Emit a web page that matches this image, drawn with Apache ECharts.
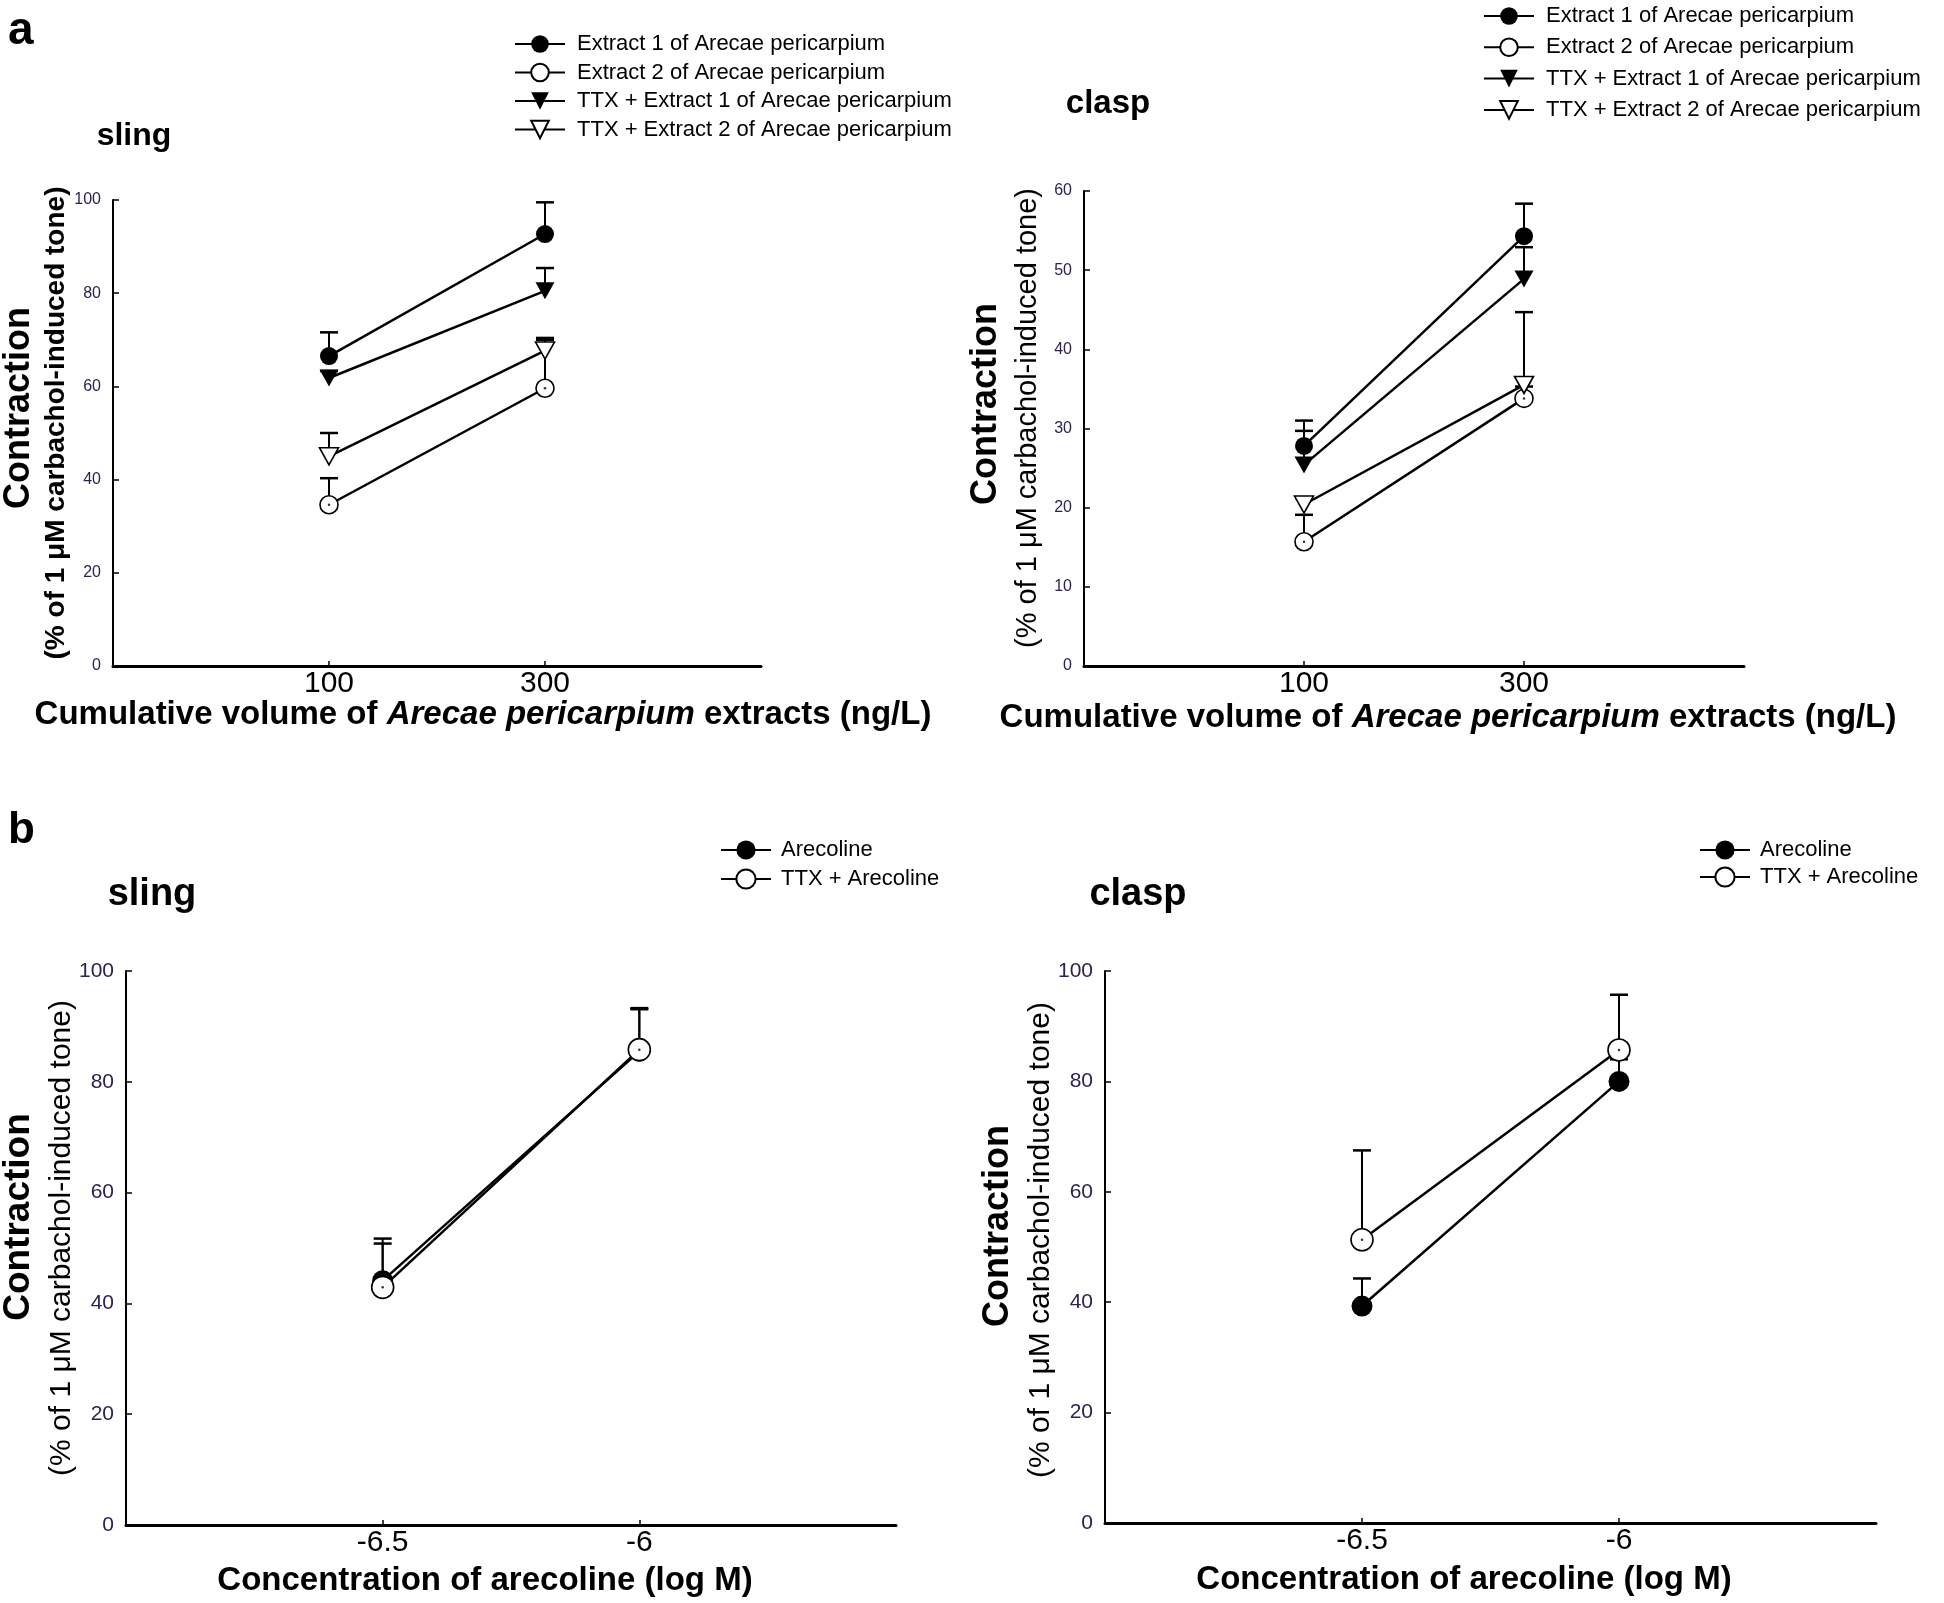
<!DOCTYPE html>
<html>
<head>
<meta charset="utf-8">
<script src="https://cdn.jsdelivr.net/npm/echarts@6/dist/echarts.min.js"></script>
<style>html,body{margin:0;padding:0;background:#fff}#c{width:1944px;height:1603px}</style>
</head>
<body>
<div id="c"></div>
<script>
// ---- data ----
const aCats = ['', '100', '300', ' '];
const bCats = ['', '-6.5', '-6', ' '];

const aSlingExt1 = [66.5, 92.7];  const aSlingExt1Sem = [5.1, 6.8];
const aSlingExt2 = [34.6, 59.6];  const aSlingExt2Sem = [5.7, 10.4];
const aSlingTtx1 = [61.8, 80.5];  const aSlingTtx1Sem = [1.5, 4.9];
const aSlingTtx2 = [45.0, 67.7];  const aSlingTtx2Sem = [5.0, 2.7];

const aClaspExt1 = [27.8, 54.3];  const aClaspExt1Sem = [3.2, 4.1];
const aClaspExt2 = [15.7, 33.8];  const aClaspExt2Sem = [3.4, 1.5];
const aClaspTtx1 = [25.4, 48.9];  const aClaspTtx1Sem = [4.3, 4.0];
const aClaspTtx2 = [20.4, 35.5];  const aClaspTtx2Sem = [0.8, 9.2];

const bSlingAre = [44.1, 85.5];   const bSlingAreSem = [7.6, 7.6];
const bSlingTtx = [42.9, 85.8];   const bSlingTtxSem = [7.9, 7.5];
const bClaspAre = [39.3, 80.0];   const bClaspAreSem = [5.0, 4.0];
const bClaspTtx = [51.3, 85.7];   const bClaspTtxSem = [16.2, 10.0];

const aNames = ['Extract 1 of Arecae pericarpium', 'Extract 2 of Arecae pericarpium',
  'TTX + Extract 1 of Arecae pericarpium', 'TTX + Extract 2 of Arecae pericarpium'];
const bNames = ['Arecoline', 'TTX + Arecoline'];

// ---- helpers ----
const toPts = vals => vals.map((v, i) => [i + 1, v]);
const toErr = (vals, sem) => vals.map((v, i) => [i + 1, v, v + sem[i]]);

const styles = {
  fc: { symbol: 'circle', itemStyle: { color: '#000' } },
  oc: { symbol: 'circle', itemStyle: { color: '#fff', borderColor: '#000', borderWidth: 1.6 } },
  ft: { symbol: 'triangle', symbolRotate: 180, itemStyle: { color: '#000' } },
  ot: { symbol: 'triangle', symbolRotate: 180, itemStyle: { color: '#fff', borderColor: '#000', borderWidth: 1.6 } }
};

function lineS(name, idx, vals, kind, size) {
  const st = styles[kind];
  return {
    type: 'line', name, xAxisIndex: idx, yAxisIndex: idx, data: toPts(vals),
    symbol: st.symbol, symbolRotate: st.symbolRotate || 0,
    symbolSize: kind[1] === 't' ? [size + 1, size - 1] : size,
    itemStyle: st.itemStyle, lineStyle: { color: '#000', width: 2.5 },
    z: 3, silent: true, animation: false
  };
}
function errS(idx, vals, sem) {
  return {
    type: 'custom', xAxisIndex: idx, yAxisIndex: idx, data: toErr(vals, sem),
    encode: { x: 0, y: [1, 2] }, z: 1, silent: true, animation: false,
    renderItem: (params, api) => {
      const p0 = api.coord([api.value(0), api.value(1)]);
      const p1 = api.coord([api.value(0), api.value(2)]);
      const hw = 9;
      return { type: 'group', children: [
        { type: 'line', shape: { x1: p0[0], y1: p0[1], x2: p1[0], y2: p1[1] }, style: { stroke: '#000', lineWidth: 2 } },
        { type: 'line', shape: { x1: p1[0] - hw, y1: p1[1], x2: p1[0] + hw, y2: p1[1] }, style: { stroke: '#000', lineWidth: 2.5 } }
      ] };
    }
  };
}
function dotS(idx, list) {
  let pts = [];
  list.forEach(v => pts = pts.concat(toPts(v)));
  return { type: 'scatter', name: 'dot', xAxisIndex: idx, yAxisIndex: idx, data: pts,
    symbolSize: 2.5, itemStyle: { color: '#000' }, z: 6, silent: true, animation: false };
}

const grids = [
  { left: 113, top: 200, width: 648, height: 466 },
  { left: 1084, top: 191, width: 660, height: 475 },
  { left: 126, top: 971, width: 770, height: 554 },
  { left: 1105, top: 971, width: 771, height: 552 }
];

function xAx(idx, cats) {
  return {
    type: 'category', gridIndex: idx, data: cats, boundaryGap: false,
    axisLine: { lineStyle: { color: '#000', width: 3 } },
    axisTick: { show: true, inside: true, length: 5, interval: (i) => i === 1 || i === 2, lineStyle: { color: '#000', width: 1.5 } },
    axisLabel: { fontSize: 30, color: '#000', margin: 3, fontFamily: 'Liberation Sans', interval: 0 },
    splitLine: { show: false }
  };
}
function yAx(idx, max, step, fs) {
  return {
    type: 'value', gridIndex: idx, min: 0, max: max, interval: step,
    axisLine: { show: true, lineStyle: { color: '#000', width: 2 } },
    axisTick: { show: true, inside: true, length: 6, lineStyle: { color: '#000', width: 1.5 } },
    axisLabel: { fontSize: fs, color: '#2c2450', margin: 12, fontFamily: 'Liberation Sans' },
    splitLine: { show: false }
  };
}

function legend(names, left, top, ih, gap, pad) {
  return {
    orient: 'vertical', left, top, itemWidth: 50, itemHeight: ih, itemGap: gap,
    selectedMode: false, data: names,
    textStyle: { fontSize: 22, color: '#000', fontFamily: 'Liberation Sans', padding: [0, 0, 0, pad] }
  };
}

function txt(text, x, y, font, align, rot, rich) {
  const g = { type: 'text', x, y, silent: true,
    style: { text, font, fill: '#000', align: align || 'center', verticalAlign: 'middle' } };
  if (rot) g.rotation = rot;
  if (rich) g.style.rich = rich;
  return g;
}
const R = Math.PI / 2;
const xTitleRich = {
  n: { font: 'bold 33px "Liberation Sans"', fill: '#000' },
  i: { font: 'italic bold 33px "Liberation Sans"', fill: '#000' }
};
const aXTitle = '{n|Cumulative volume of }{i|Arecae pericarpium}{n| extracts (ng/L)}';
const yTitle2 = '(% of 1 \u03bcM carbachol-induced tone)';

const option = {
  backgroundColor: '#fff',
  animation: false,
  grid: grids,
  xAxis: [xAx(0, aCats), xAx(1, aCats), xAx(2, bCats), xAx(3, bCats)],
  yAxis: [yAx(0, 100, 20, 16), yAx(1, 60, 10, 16), yAx(2, 100, 20, 21), yAx(3, 100, 20, 21)],
  legend: [
    legend(aNames, 509, 28, 22, 6.5, 7),
    legend(aNames, 1478, 0, 22, 9.3, 7),
    legend(bNames, 715, 834, 24, 7, 5),
    legend(bNames, 1694, 834, 24, 5, 5)
  ],
  series: [
    errS(0, aSlingExt1, aSlingExt1Sem), errS(0, aSlingExt2, aSlingExt2Sem),
    errS(0, aSlingTtx1, aSlingTtx1Sem), errS(0, aSlingTtx2, aSlingTtx2Sem),
    lineS(aNames[0], 0, aSlingExt1, 'fc', 18), lineS(aNames[1], 0, aSlingExt2, 'oc', 18),
    lineS(aNames[2], 0, aSlingTtx1, 'ft', 18), lineS(aNames[3], 0, aSlingTtx2, 'ot', 18),
    dotS(0, [aSlingExt2]),

    errS(1, aClaspExt1, aClaspExt1Sem), errS(1, aClaspExt2, aClaspExt2Sem),
    errS(1, aClaspTtx1, aClaspTtx1Sem), errS(1, aClaspTtx2, aClaspTtx2Sem),
    lineS(aNames[0], 1, aClaspExt1, 'fc', 18), lineS(aNames[1], 1, aClaspExt2, 'oc', 18),
    lineS(aNames[2], 1, aClaspTtx1, 'ft', 18), lineS(aNames[3], 1, aClaspTtx2, 'ot', 18),
    dotS(1, [aClaspExt2]),

    errS(2, bSlingAre, bSlingAreSem), errS(2, bSlingTtx, bSlingTtxSem),
    lineS(bNames[0], 2, bSlingAre, 'fc', 21), lineS(bNames[1], 2, bSlingTtx, 'oc', 22),
    dotS(2, [bSlingTtx]),

    errS(3, bClaspAre, bClaspAreSem), errS(3, bClaspTtx, bClaspTtxSem),
    lineS(bNames[0], 3, bClaspAre, 'fc', 21), lineS(bNames[1], 3, bClaspTtx, 'oc', 22),
    dotS(3, [bClaspTtx])
  ],
  graphic: [
    txt('a', 8, 31, 'bold 46px "Liberation Sans"', 'left'),
    txt('b', 8, 831, 'bold 44px "Liberation Sans"', 'left'),
    txt('sling', 134, 136, 'bold 32px "Liberation Sans"'),
    txt('clasp', 1108, 104, 'bold 33px "Liberation Sans"'),
    txt('sling', 152, 895, 'bold 38px "Liberation Sans"'),
    txt('clasp', 1138, 895, 'bold 38px "Liberation Sans"'),
    txt(aXTitle, 483, 715, 'bold 33px "Liberation Sans"', 'center', 0, xTitleRich),
    txt(aXTitle, 1448, 718, 'bold 33px "Liberation Sans"', 'center', 0, xTitleRich),
    txt('Concentration of arecoline (log M)', 485, 1581, 'bold 33px "Liberation Sans"'),
    txt('Concentration of arecoline (log M)', 1464, 1580, 'bold 33px "Liberation Sans"'),
    txt('Contraction', 19, 408, 'bold 36px "Liberation Sans"', 'center', R),
    txt(yTitle2, 56, 423, 'bold 28px "Liberation Sans"', 'center', R),
    txt('Contraction', 986, 404, 'bold 36px "Liberation Sans"', 'center', R),
    txt(yTitle2, 1028, 418, '29px "Liberation Sans"', 'center', R),
    txt('Contraction', 19, 1217, 'bold 37px "Liberation Sans"', 'center', R),
    txt(yTitle2, 62, 1238, '30px "Liberation Sans"', 'center', R),
    txt('Contraction', 998, 1226, 'bold 36px "Liberation Sans"', 'center', R),
    txt(yTitle2, 1041, 1240, '30px "Liberation Sans"', 'center', R)
  ]
};

const chart = echarts.init(document.getElementById('c'), null, { renderer: 'canvas' });
chart.setOption(option);
</script>
</body>
</html>
